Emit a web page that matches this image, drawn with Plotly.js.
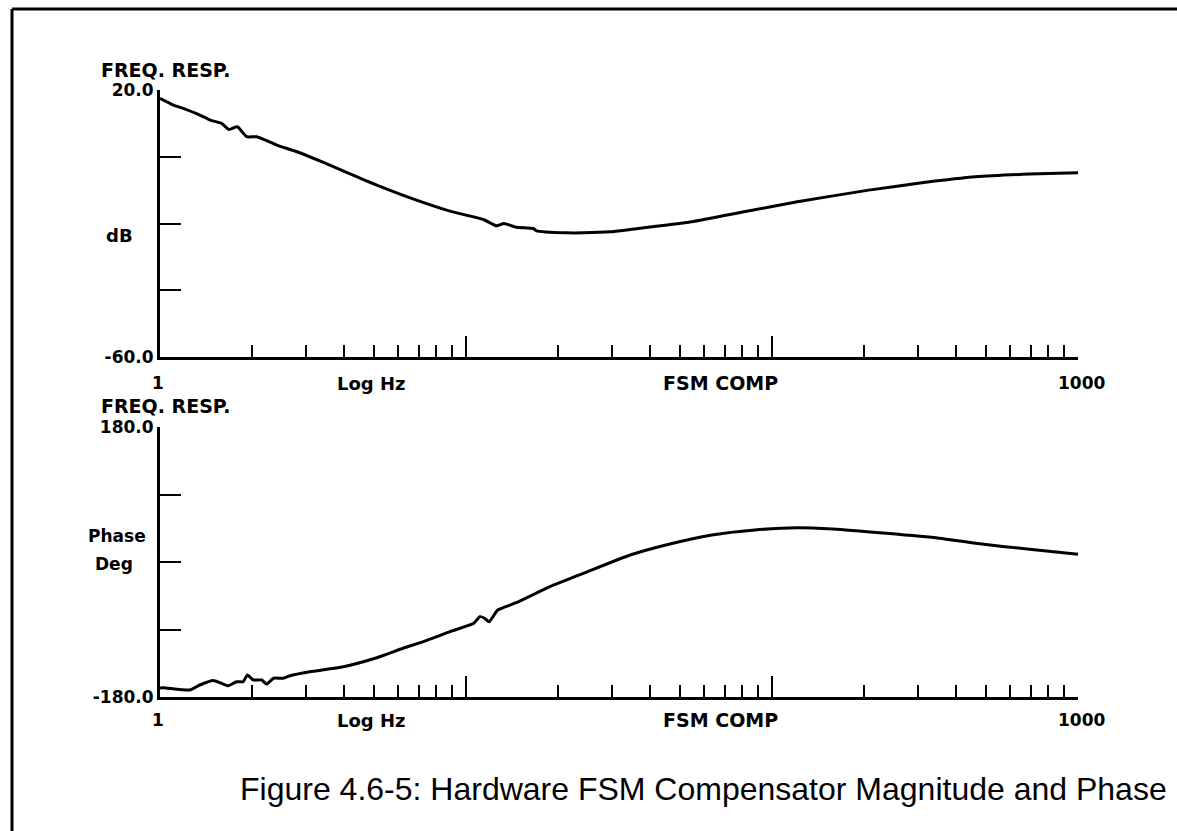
<!DOCTYPE html>
<html>
<head>
<meta charset="utf-8">
<script src="https://cdn.plot.ly/plotly-3.0.1.min.js"></script>
<style>
  html, body { margin: 0; padding: 0; background: #fff; }
  #chart { width: 1177px; height: 831px; }
</style>
</head>
<body>
<div id="chart"></div>
<script>
// ---- data ----
const magFreq = [1, 1.105, 1.19, 1.35, 1.457, 1.59, 1.68, 1.79, 1.92, 2.07, 2.41, 2.80, 3.42, 4.07, 5.11, 6.89, 8.87, 11.4, 12.6, 13.3, 14.6, 16.6, 17.0, 21.3, 24.2, 29.6, 34.4, 54.5, 81.1, 121, 207, 309, 463, 694, 1000];
const magDb = [17.5, 15.5, 14.5, 12.5, 11.0, 10.0, 8.2, 9.0, 6.0, 6.0, 3.5, 1.5, -1.7, -4.7, -8.5, -13.0, -16.3, -18.8, -20.7, -20.0, -21.1, -21.5, -22.2, -22.8, -22.8, -22.5, -21.8, -19.5, -16.5, -13.5, -10.0, -7.8, -6.0, -5.2, -4.8];

const phaseFreq = [1, 1.025, 1.25, 1.35, 1.49, 1.59, 1.67, 1.78, 1.87, 1.93, 2.02, 2.15, 2.23, 2.35, 2.53, 2.66, 3.09, 3.97, 5.11, 6.23, 7.26, 8.87, 10.6, 11.1, 11.5, 11.9, 12.7, 14.6, 18.8, 24.2, 34.4, 45, 63.6, 87.8, 121, 158, 236, 352, 463, 694, 1000];
const phaseDeg = [-168, -167.6, -170.7, -164, -158, -161.8, -165, -159.6, -159.6, -150.7, -157.3, -157.3, -162.7, -155, -155, -151.6, -146.3, -139.6, -127.6, -115, -106.2, -92.9, -81.8, -72.9, -75, -79.6, -64, -54.3, -32.9, -15.1, 9.3, 22.7, 36, 42.7, 45.8, 44, 38.2, 31.6, 24.9, 16.9, 10.2];

const magTickVals = [-60, -40, -20, 0, 20];
const magTickText = ["-60.0", "", "", "", "20.0"];
const phaseTickVals = [-180, -90, 0, 90, 180];
const phaseTickText = ["-180.0", "", "", "", "180.0"];
const majorX = [10, 100, 1000];

const captionText = "Figure 4.6-5: Hardware FSM Compensator Magnitude and Phase";

// ---- layout helpers ----
const W = 1177, H = 831;
const px = x => x / W;
const py = y => 1 - y / H;

const minorX = [];
[1, 10, 100].forEach(d => { for (let m = 2; m <= 9; m++) minorX.push(m * d); });

const FONT = "DejaVu Sans, Verdana, sans-serif";
const CAPFONT = "Liberation Sans, Arial, sans-serif";

function xAxis(anchor) {
  return {
    type: 'log', range: [0, 3], domain: [px(160), px(1078)], anchor: anchor,
    showline: true, linecolor: '#000', linewidth: 3,
    ticks: 'inside', ticklen: 21, tickwidth: 2, tickcolor: '#000',
    tickmode: 'array', tickvals: majorX, showticklabels: false,
    minor: { tickmode: 'array', tickvals: minorX, ticks: 'inside', ticklen: 12, tickwidth: 2, tickcolor: '#000', showgrid: false },
    showgrid: false, zeroline: false, fixedrange: true
  };
}
function yAxis(anchor, range, vals, text, dom) {
  return {
    range: range, domain: dom, anchor: anchor,
    showline: true, linecolor: '#000', linewidth: 3,
    ticks: 'inside', ticklen: 21, tickwidth: 2, tickcolor: '#000',
    tickmode: 'array', tickvals: vals, ticktext: text,
    tickfont: { family: FONT, size: 17, color: '#000', weight: 'bold' },
    ticklabelstandoff: 0,
    showgrid: false, zeroline: false, fixedrange: true
  };
}

const lineStyle = { color: '#000', width: 3, shape: 'spline', smoothing: 0.5 };
const data = [
  { x: magFreq, y: magDb, xaxis: 'x', yaxis: 'y', mode: 'lines', line: lineStyle, hoverinfo: 'skip' },
  { x: phaseFreq, y: phaseDeg, xaxis: 'x2', yaxis: 'y2', mode: 'lines', line: lineStyle, hoverinfo: 'skip' }
];

function ann(text, x, y, size, opts) {
  opts = opts || {};
  return { text: text, xref: 'paper', yref: 'paper', x: px(x), y: py(y), showarrow: false,
    xanchor: opts.xanchor || 'center', yanchor: 'middle',
    font: { family: opts.family || FONT, size: size || 18, color: '#000', weight: opts.weight || 'bold' } };
}

const annotations = [
  ann("FREQ. RESP.", 166, 70, 19),
  ann("dB", 119, 235, 18),
  ann("1", 158, 383, 17), ann("Log Hz", 371, 383, 18), ann("FSM COMP", 720, 383, 19), ann("1000", 1081, 383, 17),
  ann("FREQ. RESP.", 166, 406, 19),
  ann("Phase", 117, 536, 17), ann("Deg", 114, 564, 17),
  ann("1", 158, 720, 17), ann("Log Hz", 371, 720, 18), ann("FSM COMP", 720, 720, 19), ann("1000", 1081, 720, 17),
  ann(captionText, 703, 789, 32, { family: CAPFONT, weight: 'normal' })
];

const layout = {
  width: W, height: H,
  margin: { l: 0, r: 0, t: 0, b: 0 },
  paper_bgcolor: '#fff', plot_bgcolor: 'rgba(0,0,0,0)',
  showlegend: false,
  xaxis: xAxis('y'),
  yaxis: yAxis('x', [-60, 20], magTickVals, magTickText, [py(357), py(90)]),
  xaxis2: xAxis('y2'),
  yaxis2: yAxis('x2', [-180, 180], phaseTickVals, phaseTickText, [py(697), py(427)]),
  annotations: annotations,
  shapes: [
    { type: 'line', xref: 'paper', yref: 'paper', x0: px(12), x1: px(12), y0: 0, y1: py(9), line: { color: '#000', width: 3 } },
    { type: 'line', xref: 'paper', yref: 'paper', x0: px(12), x1: 1, y0: py(9), y1: py(9), line: { color: '#000', width: 3 } }
  ]
};

Plotly.newPlot('chart', data, layout, { staticPlot: true, displayModeBar: false });
</script>
</body>
</html>
